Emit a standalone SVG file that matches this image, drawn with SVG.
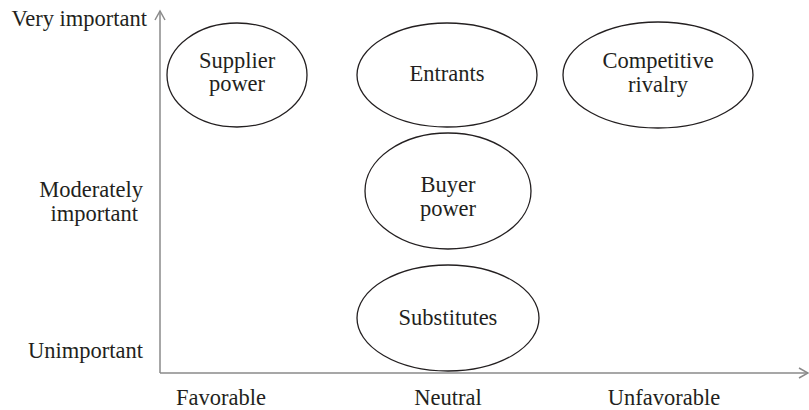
<svg xmlns="http://www.w3.org/2000/svg" width="809" height="410" viewBox="0 0 809 410">
<style>
text{font-family:"Liberation Serif","Times New Roman",serif;font-size:22.5px;fill:#231f20}
.m{text-anchor:middle}
.e{text-anchor:end}
ellipse{fill:none;stroke:#231f20;stroke-width:1.3}
.ax{stroke:#8a8a8a;stroke-width:1.5;fill:none}
</style>
<g id="axes">
<path class="ax" d="M160,373 V12 M160,373 H807"/>
<path class="ax" d="M155,20 L160,11 L165,20 M799,368 L808,373 L799,378"/>
</g>
<g id="y-labels">
<text class="e" x="147" y="26">Very important</text>
<text class="e" x="143" y="197">Moderately</text>
<text class="e" x="138" y="221">important</text>
<text class="e" x="143" y="358">Unimportant</text>
</g>
<g id="x-labels">
<text class="m" x="221" y="405">Favorable</text>
<text class="m" x="448" y="405">Neutral</text>
<text class="m" x="664" y="405">Unfavorable</text>
</g>
<g id="supplier"><ellipse cx="237" cy="75" rx="70" ry="52"/><text class="m" x="237" y="68">Supplier</text><text class="m" x="237" y="91">power</text></g>
<g id="entrants"><ellipse cx="447" cy="75" rx="90" ry="52"/><text class="m" x="447" y="81">Entrants</text></g>
<g id="rivalry"><ellipse cx="658" cy="75" rx="95" ry="53"/><text class="m" x="658" y="68">Competitive</text><text class="m" x="658" y="92">rivalry</text></g>
<g id="buyer"><ellipse cx="448" cy="191" rx="83" ry="58"/><text class="m" x="448" y="192">Buyer</text><text class="m" x="448" y="216">power</text></g>
<g id="substitutes"><ellipse cx="448" cy="318" rx="91" ry="53"/><text class="m" x="448" y="325">Substitutes</text></g>
</svg>
